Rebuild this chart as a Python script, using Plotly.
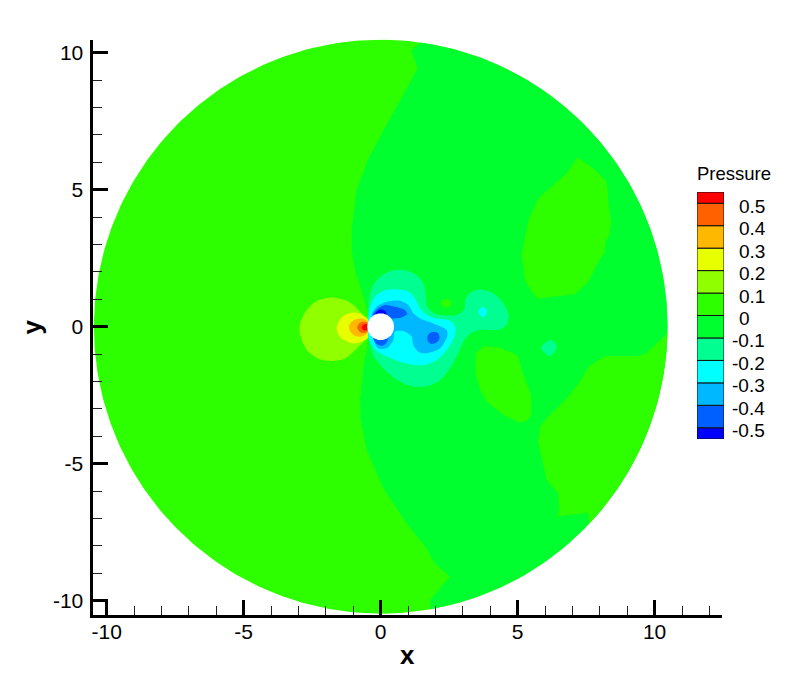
import numpy as np
import plotly.graph_objects as go

# Pressure bands of the legend (lower edge, upper edge, colour), bottom to top
band_edges = [-0.55, -0.5, -0.4, -0.3, -0.2, -0.1, 0.0, 0.1, 0.2, 0.3, 0.4, 0.5, 0.55]
band_colors = ["#0000ff", "#0060ff", "#00b8ff", "#00ffff", "#00ff90", "#00ff2e",
               "#2eff00", "#90ff00", "#e8ff00", "#ffb800", "#ff6000", "#ff0000"]
legend_levels = [0.5, 0.4, 0.3, 0.2, 0.1, 0, -0.1, -0.2, -0.3, -0.4, -0.5]
legend_labels = ["0.5", "0.4", "0.3", "0.2", "0.1", "0", "-0.1", "-0.2", "-0.3", "-0.4", "-0.5"]

major_ticks = [-10, -5, 0, 5, 10]
major_labels = ["-10", "-5", "0", "5", "10"]

disc_radius = 10.47
hole_radius = 0.49

# Contour band outlines (x, y)
zero_band_x = [1.44, 1.11, 1.35, 1.01, 0.34, -0.45, -0.88, -1.06, -1.06, -0.94, -0.69, -0.45, -0.45,
               -0.63, -0.75, -0.73, -0.51, 0.10, 0.95, 1.68, 1.98, 2.53, 1.80, 1.82]
zero_band_y = [10.36, 10.07, 9.43, 8.82, 7.60, 6.14, 4.99, 3.53, 2.80, 2.07, 1.22, 0.49, -0.49,
               -1.46, -2.68, -3.41, -4.50, -5.90, -7.18, -8.09, -8.64, -9.12, -9.97, -10.30]
zero_rim_deg = (-80.0, 82.0)

island_upper_x = [7.18, 7.76, 8.25, 8.33, 8.41, 8.35, 8.21, 8.19, 7.91, 7.58, 7.09, 5.75, 5.51, 5.27, 5.15, 5.39, 5.75, 6.79]
island_upper_y = [6.17, 5.78, 5.29, 4.38, 3.83, 3.35, 3.10, 2.74, 2.31, 1.64, 1.18, 1.03, 1.28, 1.70, 2.62, 3.89, 4.68, 5.60]
island_middle_x = [3.75, 4.29, 4.99, 5.21, 5.49, 5.49, 5.36, 5.06, 4.48, 3.87, 3.63, 3.47, 3.47]
island_middle_y = [-0.71, -0.75, -1.03, -1.76, -2.49, -3.22, -3.43, -3.50, -3.22, -2.74, -2.31, -1.70, -0.97]
island_lower_x = [10.45, 10.19, 9.71, 9.40, 8.19, 7.58, 7.27, 6.79, 6.12, 5.82, 5.75, 6.06, 6.48, 6.52, 6.45, 7.58, 7.58]
island_lower_y = [-0.24, -0.49, -0.97, -1.07, -1.07, -1.46, -2.01, -2.62, -3.28, -3.65, -4.20, -5.60, -6.08, -6.69, -6.93, -6.79, -7.18]
island_lower_rim_deg = (-43.4, -1.3)
island_small_x = [2.19, 2.26, 2.41, 2.55, 2.58, 2.47, 2.29]
island_small_y = [0.85, 0.97, 1.01, 0.94, 0.82, 0.71, 0.71]

high_01_x = [-0.39, -0.45, -0.63, -0.81, -0.99, -1.30, -1.79, -2.34, -2.70, -2.92, -2.97, -2.88, -2.64, -2.21, -1.79, -1.30, -0.97, -0.69, -0.49, -0.39, -0.39]
high_01_y = [0.24, 0.30, 0.43, 0.61, 0.79, 0.97, 1.07, 0.94, 0.61, 0.18, -0.09, -0.49, -0.91, -1.19, -1.25, -1.16, -0.89, -0.61, -0.39, -0.24, 0.24]
high_02_x = [-0.39, -0.49, -0.69, -0.97, -1.30, -1.51, -1.61, -1.51, -1.30, -0.97, -0.69, -0.45, -0.39, -0.39]
high_02_y = [0.22, 0.27, 0.44, 0.52, 0.43, 0.22, -0.06, -0.34, -0.51, -0.61, -0.55, -0.39, -0.24, 0.22]
high_03_x = [-0.39, -0.49, -0.69, -0.90, -1.09, -1.16, -1.08, -0.90, -0.69, -0.49, -0.39]
high_03_y = [-0.06, 0.22, 0.30, 0.27, 0.15, -0.02, -0.22, -0.35, -0.36, -0.24, -0.06]
high_04_x = [-0.39, -0.49, -0.66, -0.80, -0.86, -0.80, -0.66, -0.49, -0.39]
high_04_y = [-0.02, 0.15, 0.18, 0.10, -0.02, -0.16, -0.23, -0.18, -0.02]
high_05_x = [-0.39, -0.49, -0.63, -0.69, -0.63, -0.49, -0.39]
high_05_y = [-0.02, 0.10, 0.07, -0.02, -0.12, -0.12, -0.02]

low_01_x = [-0.45, -0.44, -0.33, -0.02, 0.40, 0.83, 1.31, 1.56, 1.65, 1.68, 1.86, 2.17, 2.77, 3.04, 3.09, 3.26, 3.63,
            4.11, 4.48, 4.67, 4.62, 4.36, 3.63, 3.28, 3.02, 2.83, 2.53, 2.17, 1.68, 1.13, 0.52, 0.04, -0.27, -0.41, -0.45, -0.45]
low_01_y = [0.43, 0.85, 1.40, 1.82, 2.04, 2.07, 1.89, 1.58, 1.16, 0.79, 0.55, 0.43, 0.43, 0.61, 0.97, 1.24, 1.36,
            1.22, 0.85, 0.43, 0.10, -0.10, -0.12, -0.24, -0.55, -0.97, -1.52, -1.95, -2.17, -2.17, -1.89, -1.46, -1.03, -0.55, -0.39, 0.43]
low_01b_x = [5.84, 6.06, 6.24, 6.42, 6.36, 6.16, 5.94]
low_01b_y = [-0.75, -0.55, -0.49, -0.67, -0.91, -1.07, -0.91]
low_02_x = [-0.45, -0.36, -0.15, 0.22, 0.64, 1.01, 1.25, 1.44, 1.68, 2.04, 2.53, 2.73, 2.68, 2.41, 2.04, 1.56, 1.01, 0.40, -0.02, -0.29, -0.45, -0.45]
low_02_y = [0.43, 0.79, 1.16, 1.34, 1.36, 1.28, 1.03, 0.67, 0.43, 0.30, 0.22, -0.02, -0.39, -0.85, -1.22, -1.40, -1.36, -1.16, -0.97, -0.73, -0.39, 0.43]
low_02b_x = [3.56, 3.71, 3.89, 3.75, 3.60]
low_02b_y = [0.57, 0.73, 0.57, 0.34, 0.46]
low_03_x = [-0.33, -0.15, 0.22, 0.71, 1.01, 1.19, 1.44, 1.92, 2.41, 2.43, 2.17, 1.68, 1.37, 1.19, 1.13, 0.89, 0.52, 0.46, 0.22, -0.09, -0.27, -0.33]
low_03_y = [0.43, 0.73, 0.91, 0.95, 0.79, 0.49, 0.30, 0.12, -0.12, -0.36, -0.79, -0.97, -0.91, -0.67, -0.36, -0.18, -0.18, -0.49, -0.79, -0.79, -0.43, 0.43]
low_04_x = [-0.29, -0.15, 0.16, 0.52, 0.89, 0.97, 0.77, 0.40, -0.02, -0.29]
low_04_y = [0.43, 0.63, 0.79, 0.73, 0.61, 0.46, 0.34, 0.30, 0.30, 0.43]
low_04b_x = [-0.27, -0.15, 0.04, 0.19, 0.28, -0.02, -0.27]
low_04b_y = [-0.39, -0.63, -0.69, -0.61, -0.39, -0.24, -0.39]
low_04c_x = [1.70, 1.78, 1.95, 2.10, 2.15, 2.04, 1.86, 1.74, 1.70]
low_04c_y = [-0.39, -0.24, -0.18, -0.24, -0.43, -0.58, -0.63, -0.55, -0.39]
low_05_x = [-0.21, -0.02, 0.16, 0.22, -0.02]
low_05_y = [0.49, 0.63, 0.58, 0.43, 0.30]

C = dict(zip(["m5", "m4", "m3", "m2", "m1", "m0", "p0", "p1", "p2", "p3", "p4", "p5"], band_colors))


def rim(a0, a1, radius=disc_radius):
    t = np.radians(np.arange(a0, a1 + 0.5, 1.0))
    return list(radius * np.cos(t)), list(radius * np.sin(t))


def patch(fig, x, y, color, smooth=False):
    line = dict(width=0, color=color)
    if smooth:
        line.update(shape="spline", smoothing=0.8)
    fig.add_trace(go.Scatter(x=list(x), y=list(y), mode="lines", fill="toself", fillcolor=color,
                             line=line, hoverinfo="skip", showlegend=False,
                             xaxis="x", yaxis="y"))


fig = go.Figure()

rx, ry = rim(0, 360)
patch(fig, rx, ry, C["p0"])

rx, ry = rim(*zero_rim_deg)
patch(fig, zero_band_x + rx, zero_band_y + ry, C["m0"])

patch(fig, island_upper_x, island_upper_y, C["p0"])
patch(fig, island_middle_x, island_middle_y, C["p0"])
rx, ry = rim(*island_lower_rim_deg)
patch(fig, island_lower_x + rx, island_lower_y + ry, C["p0"])

for x, y, key in [
    (high_01_x, high_01_y, "p1"), (high_02_x, high_02_y, "p2"), (high_03_x, high_03_y, "p3"),
    (high_04_x, high_04_y, "p4"), (high_05_x, high_05_y, "p5"),
    (low_01_x, low_01_y, "m1"), (low_01b_x, low_01b_y, "m1"),
    (island_small_x, island_small_y, "p0"),
    (low_02_x, low_02_y, "m2"), (low_02b_x, low_02b_y, "m2"),
    (low_03_x, low_03_y, "m3"),
    (low_04_x, low_04_y, "m4"), (low_04b_x, low_04b_y, "m4"), (low_04c_x, low_04c_y, "m4"),
    (low_05_x, low_05_y, "m5"),
]:
    patch(fig, x, y, C[key], smooth=True)

rx, ry = rim(0, 360, hole_radius)
patch(fig, rx, ry, "#ffffff")

# Legend colour bar
fig.add_trace(go.Bar(
    x=[0.5] * len(band_colors),
    y=[band_edges[i + 1] - band_edges[i] for i in range(len(band_colors))],
    base=band_edges[:-1], width=1.0, marker=dict(color=band_colors, line=dict(color="#111111", width=1)),
    hoverinfo="skip", showlegend=False, xaxis="x2", yaxis="y2", cliponaxis=False))

W, H = 809, 693
FONT = "Liberation Sans, Arial, sans-serif"
axis_common = dict(
    showgrid=False, zeroline=False, showline=True, linecolor="black", linewidth=3,
    ticks="inside", ticklen=15, tickwidth=3, tickcolor="black",
    tickmode="array", tickvals=major_ticks, ticktext=major_labels,
    tickfont=dict(family=FONT, size=21, color="black"),
    minor=dict(ticks="inside", ticklen=9, tickwidth=1, tickcolor="#222222", dtick=1, tick0=0, showgrid=False),
    automargin=False,
)

annotations = [dict(x=(729.5 if t.startswith("-") else 736.5) / W, xref="paper", y=v, yref="y2", text=t,
                    showarrow=False, xanchor="left", yanchor="middle", yshift=-3,
                    font=dict(family=FONT, size=19, color="black"))
               for v, t in zip(legend_levels, legend_labels)]
annotations.append(dict(x=733.5 / W, xref="paper", y=1 - 174 / H, yref="paper", text="Pressure", showarrow=False,
                        xanchor="center", yanchor="middle", font=dict(family=FONT, size=18.5, color="black")))

fig.update_layout(
    width=W, height=H, margin=dict(l=0, r=0, t=0, b=0), plot_bgcolor="white", paper_bgcolor="white",
    barmode="overlay", annotations=annotations,
    xaxis=dict(domain=[92.5 / W, 722 / W], range=[-10.52, 12.46], ticklabelstandoff=-4,
               title=dict(text="<b>x</b>", font=dict(family=FONT, size=26, color="black"), standoff=4), **axis_common),
    yaxis=dict(domain=[1 - 615 / H, 1 - 39.5 / H], range=[-10.52, 10.48], ticklabelstandoff=2,
               title=dict(text="<b>y</b>", font=dict(family=FONT, size=26, color="black"), standoff=4), **axis_common),
    xaxis2=dict(domain=[697 / W, 724 / W], range=[0, 1], visible=False, anchor="y2"),
    yaxis2=dict(domain=[1 - 439 / H, 1 - 192 / H], range=[-0.55, 0.55], visible=False, anchor="x2"),
)

fig.write_html("out.html", config={"displayModeBar": False}, post_script="document.body.style.margin='0';")
